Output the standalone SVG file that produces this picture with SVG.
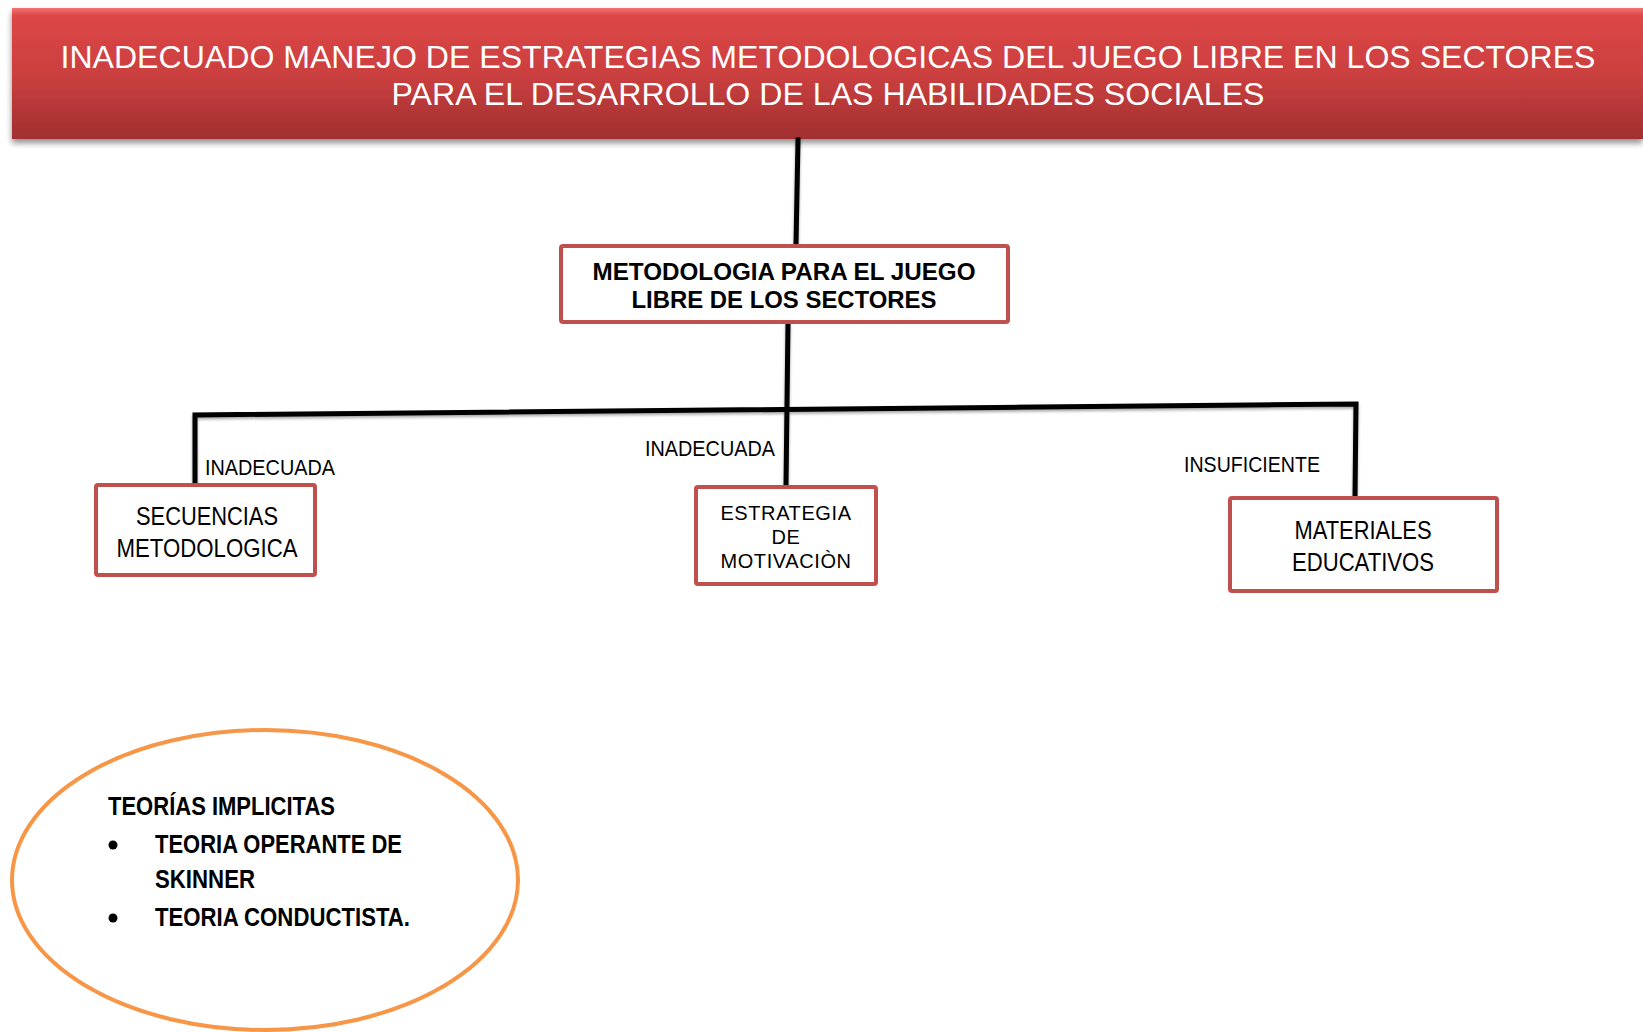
<svg xmlns="http://www.w3.org/2000/svg" width="1643" height="1032" viewBox="0 0 1643 1032">
  <defs>
    <linearGradient id="bannerGrad" x1="0" y1="0" x2="0" y2="1">
      <stop offset="0" stop-color="#f27474"/>
      <stop offset="0.06" stop-color="#dc4646"/>
      <stop offset="0.5" stop-color="#cc4040"/>
      <stop offset="1" stop-color="#a12f2f"/>
    </linearGradient>
    <filter id="shadow" x="-5%" y="-20%" width="110%" height="150%">
      <feGaussianBlur in="SourceAlpha" stdDeviation="3"/>
      <feOffset dx="0" dy="4" result="b"/>
      <feComponentTransfer><feFuncA type="linear" slope="0.45"/></feComponentTransfer>
      <feMerge><feMergeNode/><feMergeNode in="SourceGraphic"/></feMerge>
    </filter>
    <filter id="lineShadow" x="-10%" y="-10%" width="120%" height="130%">
      <feGaussianBlur in="SourceAlpha" stdDeviation="1.5"/>
      <feOffset dx="0" dy="2"/>
      <feComponentTransfer><feFuncA type="linear" slope="0.35"/></feComponentTransfer>
      <feMerge><feMergeNode/><feMergeNode in="SourceGraphic"/></feMerge>
    </filter>
  </defs>
  <style>
    .box { fill: #ffffff; stroke: #c0504d; stroke-width: 4; }
    .conn { stroke: #000000; stroke-width: 5; fill: none; stroke-linecap: square; }
    .title { font-family: "Liberation Sans", Arial, sans-serif; font-size: 32px; fill: #ffffff; text-anchor: middle; }
    .bold { font-family: "Liberation Sans", Arial, sans-serif; font-weight: bold; font-size: 23px; fill: #000; text-anchor: middle; }
    .narrow { font-family: "Liberation Sans", Arial, sans-serif; font-size: 25px; fill: #000; text-anchor: middle; }
    .lbl { font-family: "Liberation Sans", Arial, sans-serif; font-size: 22px; fill: #000; }
    .reg { font-family: "Liberation Sans", Arial, sans-serif; font-size: 20px; fill: #000; text-anchor: middle; letter-spacing: 0.6px; }
    .theory { font-family: "Liberation Sans", Arial, sans-serif; font-weight: bold; font-size: 26px; fill: #000; }
  </style>
  <rect width="1643" height="1032" fill="#ffffff"/>

  <g id="banner">
    <rect x="12" y="8" width="1631" height="131" fill="url(#bannerGrad)" filter="url(#shadow)"/>
    <text class="title" x="828" y="68" textLength="1535" lengthAdjust="spacingAndGlyphs">INADECUADO MANEJO DE ESTRATEGIAS METODOLOGICAS DEL JUEGO LIBRE EN LOS SECTORES</text>
    <text class="title" x="828" y="105" textLength="873" lengthAdjust="spacingAndGlyphs">PARA EL DESARROLLO DE LAS HABILIDADES SOCIALES</text>
  </g>

  <g id="connectors" filter="url(#lineShadow)">
    <line class="conn" x1="798" y1="140" x2="796" y2="245"/>
    <line class="conn" x1="788" y1="323" x2="786" y2="486"/>
    <polyline class="conn" points="195,486 195,415 1356,404 1355,497"/>
  </g>

  <g id="node-metodologia">
    <rect class="box" x="561" y="246" width="447" height="76" rx="2"/>
    <text class="bold" x="784" y="280" textLength="383" lengthAdjust="spacingAndGlyphs">METODOLOGIA PARA EL JUEGO</text>
    <text class="bold" x="784" y="308" textLength="305" lengthAdjust="spacingAndGlyphs">LIBRE DE LOS SECTORES</text>
  </g>

  <g id="label-inadecuada-1">
    <text class="lbl" x="205" y="475" textLength="130" lengthAdjust="spacingAndGlyphs">INADECUADA</text>
  </g>
  <g id="label-inadecuada-2">
    <text class="lbl" x="645" y="456" textLength="130" lengthAdjust="spacingAndGlyphs">INADECUADA</text>
  </g>
  <g id="label-insuficiente">
    <text class="lbl" x="1184" y="472" textLength="136" lengthAdjust="spacingAndGlyphs">INSUFICIENTE</text>
  </g>

  <g id="node-secuencias">
    <rect class="box" x="96" y="485" width="219" height="90" rx="2"/>
    <text class="narrow" x="207" y="525" textLength="142" lengthAdjust="spacingAndGlyphs">SECUENCIAS</text>
    <text class="narrow" x="207" y="557" textLength="181" lengthAdjust="spacingAndGlyphs">METODOLOGICA</text>
  </g>

  <g id="node-estrategia">
    <rect class="box" x="696" y="487" width="180" height="97" rx="2"/>
    <text class="reg" x="786" y="520">ESTRATEGIA</text>
    <text class="reg" x="786" y="544">DE</text>
    <text class="reg" x="786" y="568">MOTIVACIÒN</text>
  </g>

  <g id="node-materiales">
    <rect class="box" x="1230" y="498" width="267" height="93" rx="2"/>
    <text class="narrow" x="1363" y="539" textLength="137" lengthAdjust="spacingAndGlyphs">MATERIALES</text>
    <text class="narrow" x="1363" y="571" textLength="142" lengthAdjust="spacingAndGlyphs">EDUCATIVOS</text>
  </g>

  <g id="node-teorias">
    <ellipse cx="265" cy="880" rx="253" ry="150" fill="#ffffff" stroke="#f79646" stroke-width="4"/>
    <text class="theory" x="108" y="815" textLength="227" lengthAdjust="spacingAndGlyphs">TEORÍAS IMPLICITAS</text>
    <circle cx="113" cy="845" r="4.5" fill="#000"/>
    <text class="theory" x="155" y="853" textLength="247" lengthAdjust="spacingAndGlyphs">TEORIA OPERANTE DE</text>
    <text class="theory" x="155" y="888" textLength="100" lengthAdjust="spacingAndGlyphs">SKINNER</text>
    <circle cx="113" cy="918" r="4.5" fill="#000"/>
    <text class="theory" x="155" y="926" textLength="255" lengthAdjust="spacingAndGlyphs">TEORIA CONDUCTISTA.</text>
  </g>
</svg>
